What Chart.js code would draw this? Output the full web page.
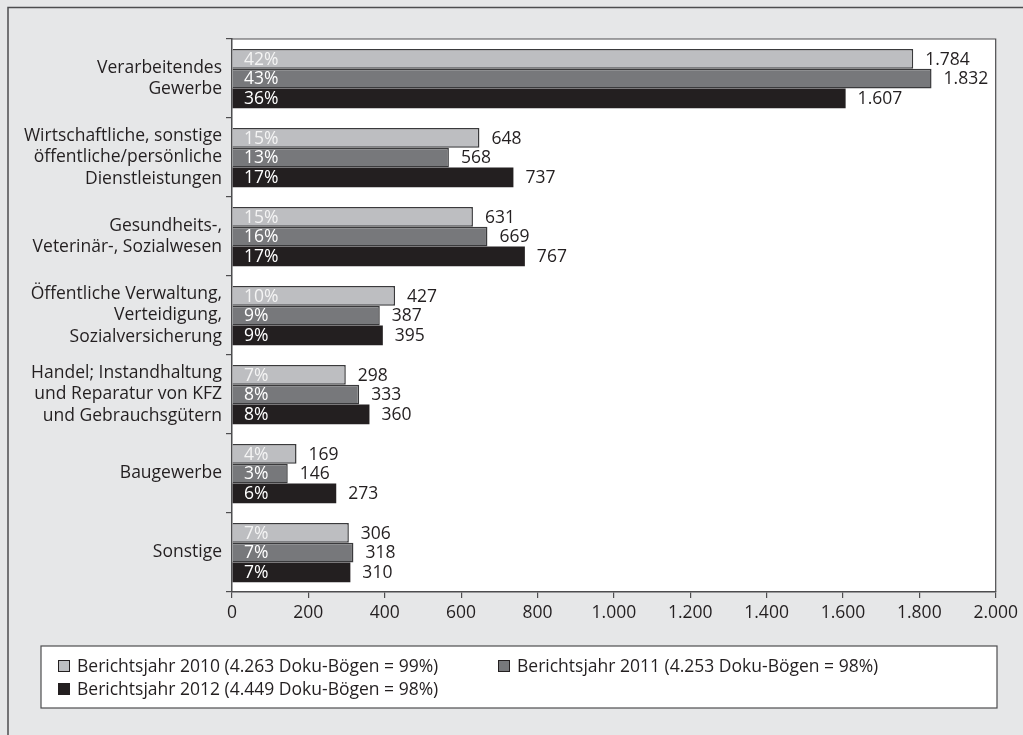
<!DOCTYPE html>
<html><head><meta charset="utf-8">
<script src="https://cdn.jsdelivr.net/npm/chart.js@4"></script>
<style>html,body{margin:0;padding:0;background:#e6e7e8;}#wrap{width:1023px;height:735px;position:relative;}</style>
</head><body><div id="wrap"><canvas id="c" width="1023" height="735"></canvas></div>
<script>
const categories = [
  ["Verarbeitendes","Gewerbe"],
  ["Wirtschaftliche, sonstige","öffentliche/persönliche","Dienstleistungen"],
  ["Gesundheits-,","Veterinär-, Sozialwesen"],
  ["Öffentliche Verwaltung,","Verteidigung,","Sozialversicherung"],
  ["Handel; Instandhaltung","und Reparatur von KFZ","und Gebrauchsgütern"],
  ["Baugewerbe"],
  ["Sonstige"]
];
const seriesNames = [
  "Berichtsjahr 2010 (4.263 Doku-Bögen = 99%)",
  "Berichtsjahr 2011 (4.253 Doku-Bögen = 98%)",
  "Berichtsjahr 2012 (4.449 Doku-Bögen = 98%)"
];
const values2010 = [1784, 648, 631, 427, 298, 169, 306];
const values2011 = [1832, 568, 669, 387, 333, 146, 318];
const values2012 = [1607, 737, 767, 395, 360, 273, 310];
const pct2010 = [42, 15, 15, 10, 7, 4, 7];
const pct2011 = [43, 13, 16, 9, 8, 3, 7];
const pct2012 = [36, 17, 17, 9, 8, 6, 7];
const xTicks = [0, 200, 400, 600, 800, 1000, 1200, 1400, 1600, 1800, 2000];

const colors = ["#bdbec1", "#77787b", "#231f20"];
const pcts = [pct2010, pct2011, pct2012];
const FONT = "'Open Sans', 'DejaVu Sans', sans-serif";
const FS = 17.5;
const TXT = "#231f20";

function fmt(n){ return String(n).replace(/\B(?=(\d{3})+(?!\d))/g, "."); }

const deco = {
  id: "deco",
  beforeDraw(chart){
    const ctx = chart.ctx, a = chart.chartArea;
    ctx.save();
    ctx.fillStyle = "#e6e7e8";
    ctx.fillRect(0,0,chart.width,chart.height);
    ctx.strokeStyle = "#4d4d4f"; ctx.lineWidth = 1.5;
    ctx.beginPath(); ctx.moveTo(8, 735); ctx.lineTo(8, 7.5); ctx.lineTo(1023, 7.5); ctx.stroke();
    ctx.fillStyle = "#ffffff";
    ctx.fillRect(a.left, a.top, a.right-a.left, a.bottom-a.top);
    ctx.strokeStyle = "#4d4d4f"; ctx.lineWidth = 1.2;
    ctx.beginPath(); ctx.moveTo(a.left, a.top); ctx.lineTo(a.right, a.top); ctx.lineTo(a.right, a.bottom); ctx.stroke();
    ctx.fillStyle = "#ffffff";
    ctx.fillRect(41, 646, 956, 62);
    ctx.strokeStyle = "#4d4d4f"; ctx.lineWidth = 1.2;
    ctx.strokeRect(41, 646, 956, 62);
    ctx.restore();
  },
  afterDatasetsDraw(chart){
    const ctx = chart.ctx;
    ctx.save();
    ctx.textBaseline = "middle";
    chart.data.datasets.forEach((ds, di) => {
      const meta = chart.getDatasetMeta(di);
      meta.data.forEach((bar, i) => {
        ctx.font = FS + "px " + FONT;
        ctx.fillStyle = di === 0 ? "#f4f4f4" : "#ffffff";
        ctx.textAlign = "left";
        ctx.fillText(pcts[di][i] + "%", chart.chartArea.left + 12, bar.y + 1);
        ctx.fillStyle = TXT;
        ctx.fillText(fmt(ds.data[i]), bar.x + 12, bar.y + 1);
      });
    });
    const items = [[58, 666, 0], [498, 666, 1], [58, 689, 2]];
    items.forEach(([x, y, k]) => {
      ctx.fillStyle = colors[k];
      ctx.fillRect(x, y - 6, 12, 12);
      ctx.strokeStyle = "#231f20"; ctx.lineWidth = 1;
      ctx.strokeRect(x + 0.5, y - 5.5, 11, 11);
      ctx.fillStyle = TXT; ctx.font = FS + "px " + FONT; ctx.textAlign = "left";
      ctx.fillText(seriesNames[k], x + 19, y + 1);
    });
    ctx.restore();
  }
};

new Chart(document.getElementById("c"), {
  type: "bar",
  data: {
    labels: categories,
    datasets: [
      { label: seriesNames[0], data: values2010, backgroundColor: colors[0], borderColor: "#3a3a3c", borderWidth: 1.5 },
      { label: seriesNames[1], data: values2011, backgroundColor: colors[1], borderColor: "#3a3a3c", borderWidth: 1.5 },
      { label: seriesNames[2], data: values2012, backgroundColor: colors[2], borderColor: "#231f20", borderWidth: 0 }
    ]
  },
  plugins: [deco],
  options: {
    indexAxis: "y",
    responsive: false,
    animation: false,
    devicePixelRatio: 1,
    layout: { padding: { top: 39, right: 26, left: 0, bottom: 0 } },
    categoryPercentage: 0.75,
    barPercentage: 1.0,
    plugins: { legend: { display: false }, tooltip: { enabled: false } },
    scales: {
      x: {
        min: 0, max: 2000,
        afterBuildTicks: s => { s.ticks = xTicks.map(v => ({ value: v })); },
        afterFit: s => { s.height = 143; },
        grid: { drawOnChartArea: false, color: "#4d4d4f", tickLength: 6, lineWidth: 1.2 },
        border: { color: "#4d4d4f", width: 1.5 },
        ticks: { color: TXT, font: { family: FONT, size: FS }, padding: 5, maxRotation: 0, callback: v => fmt(v) }
      },
      y: {
        afterFit: s => { s.width = 232; },
        grid: { drawOnChartArea: false, offset: true, color: "#4d4d4f", tickLength: 6, lineWidth: 1.2 },
        border: { color: "#4d4d4f", width: 1.5 },
        ticks: { color: TXT, font: { family: FONT, size: FS, lineHeight: 1.22 }, padding: 4 }
      }
    }
  }
});
</script>
</body></html>
